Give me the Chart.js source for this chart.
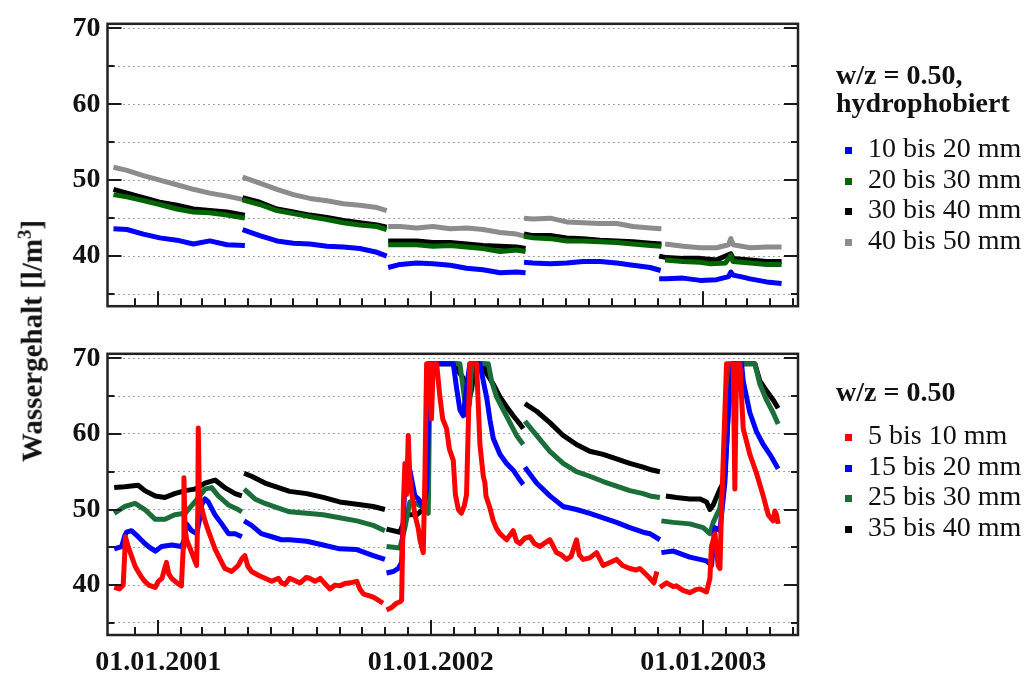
<!DOCTYPE html>
<html lang="de">
<head>
<meta charset="utf-8">
<title>Wassergehalt</title>
<script src="https://cdn.jsdelivr.net/npm/chart.js@4.4.1/dist/chart.umd.min.js"></script>
<style>
  html, body { margin: 0; padding: 0; background: #fff; }
  body { width: 1024px; height: 675px; position: relative; overflow: hidden;
         font-family: 'Liberation Serif', 'Times New Roman', serif; color: #111; }
  canvas { position: absolute; left: 0; }
  #oben { top: 0; }
  #unten { top: 330px; }
  .achsentitel { position: absolute; left: 31px; top: 341px; transform: translate(-50%, -50%) rotate(-90deg);
                 font-weight: bold; font-size: 29px; white-space: nowrap; }
  .achsentitel sup { font-size: 19px; }
  .legende { position: absolute; left: 836px; font-size: 28px; }
  .legende .titel { font-weight: bold; line-height: 28px; white-space: nowrap; }
  .legende ul { list-style: none; margin: 0; padding: 0; }
  .legende li { height: 30.5px; line-height: 30.5px; white-space: nowrap; }
  .legende .box { display: inline-block; width: 7px; height: 7px; margin: 0 16px 0 9px; vertical-align: middle; }
  #legende-oben { top: 61px; }
  #legende-oben ul { margin-top: 16px; }
  #legende-unten { top: 378px; }
  #legende-unten ul { margin-top: 14px; }
</style>
</head>
<body>
<canvas id="oben" width="1024" height="330"></canvas>
<canvas id="unten" width="1024" height="345"></canvas>
<div class="achsentitel">Wassergehalt [l/m<sup>3</sup>]</div>
<div class="legende" id="legende-oben"><div class="titel">w/z = 0.50,<br>hydrophobiert</div><ul></ul></div>
<div class="legende" id="legende-unten"><div class="titel">w/z = 0.50</div><ul></ul></div>
<script>
// Tage seit 01.01.2001, Messwerte in l/m³; jede Reihe besteht aus Messabschnitten
const obenLabels = ['10 bis 20 mm', '20 bis 30 mm', '30 bis 40 mm', '40 bis 50 mm'];
const untenLabels = ['5 bis 10 mm', '15 bis 20 mm', '25 bis 30 mm', '35 bis 40 mm'];

const hyd10bis20 = [
  [[-60,43.6],[-42,43.5],[-20,42.9],[2,42.4],[25,42.1],[47,41.6],[69,42.0],[92,41.5],[116,41.4]],
  [[113,43.5],[136,42.7],[159,42.0],[181,41.7],[203,41.6],[226,41.3],[248,41.2],[270,41.0],[293,40.5],[306,40.0]],
  [[308,38.5],[324,38.9],[346,39.1],[368,39.0],[391,38.8],[413,38.4],[435,38.2],[458,37.8],[480,37.9],[492,37.8]],
  [[490,39.2],[502,39.1],[525,39.0],[547,39.1],[569,39.3],[592,39.3],[614,39.1],[636,38.8],[659,38.5],[673,38.1]],
  [[671,37.0],[681,37.0],[703,37.1],[726,36.8],[748,36.9],[764,37.3],[767,37.9],[770,37.5],[780,37.3],[793,37.0],[815,36.6],[835,36.4]]
];
const hyd20bis30 = [
  [[-60,48.1],[-42,47.8],[-20,47.3],[2,46.8],[25,46.2],[47,45.8],[69,45.7],[92,45.4],[116,45.0]],
  [[113,47.4],[136,46.8],[159,46.0],[181,45.6],[203,45.2],[226,44.8],[248,44.4],[270,44.1],[293,43.9],[306,43.5]],
  [[308,41.5],[324,41.5],[346,41.5],[368,41.3],[391,41.4],[413,41.2],[435,41.0],[458,40.6],[480,40.8],[492,40.6]],
  [[490,42.6],[502,42.4],[525,42.3],[547,42.0],[569,42.0],[592,41.9],[614,41.8],[636,41.6],[659,41.4],[674,41.3]],
  [[679,39.5],[703,39.3],[726,39.2],[740,39.0],[760,39.1],[767,40.1],[770,39.3],[793,39.1],[815,38.9],[835,38.9]]
];
const hyd30bis40 = [
  [[-60,48.8],[-42,48.3],[-20,47.7],[2,47.1],[25,46.7],[47,46.2],[69,46.0],[92,45.8],[116,45.4]],
  [[113,47.7],[136,47.1],[159,46.2],[181,45.8],[203,45.4],[226,45.1],[248,44.7],[270,44.4],[293,44.1],[306,43.8]],
  [[308,42.0],[324,42.0],[346,42.0],[368,41.8],[391,41.8],[413,41.6],[435,41.4],[458,41.3],[480,41.2],[492,41.0]],
  [[490,42.9],[502,42.7],[525,42.7],[547,42.4],[569,42.3],[592,42.1],[614,42.0],[636,41.9],[659,41.7],[674,41.6]],
  [[671,40.0],[681,39.8],[703,39.7],[726,39.7],[748,39.5],[767,40.3],[770,39.7],[793,39.5],[815,39.3],[835,39.3]]
];
const hyd40bis50 = [
  [[-60,51.7],[-42,51.3],[-20,50.6],[2,50.0],[25,49.4],[47,48.8],[69,48.3],[92,47.9],[116,47.4]],
  [[113,50.4],[136,49.6],[159,48.8],[181,48.1],[203,47.6],[226,47.3],[248,46.9],[270,46.7],[293,46.4],[306,46.0]],
  [[308,43.9],[324,43.9],[346,43.7],[368,43.9],[391,43.6],[413,43.7],[435,43.5],[458,43.1],[480,42.9],[492,42.6]],
  [[490,45.0],[502,44.9],[525,45.0],[547,44.5],[569,44.4],[592,44.3],[614,44.3],[636,43.9],[659,43.7],[674,43.6]],
  [[679,41.6],[703,41.3],[726,41.1],[748,41.1],[764,41.5],[767,42.3],[770,41.5],[793,41.1],[815,41.2],[835,41.2]]
];

const wz5bis10 = [
  [[-59,39.7],[-52,39.5],[-47,40.0],[-45,44.0],[-44,46.4],[-40,45.0],[-36,43.9],[-31,42.5],[-27,41.8],[-22,41.0],[-18,40.5],[-13,40.0],[-4,39.7],[0,40.5],[5,40.9],[8,42.0],[11,43.0],[14,41.5],[18,40.9],[25,40.3],[31,39.9],[33.5,45.0],[34.4,54.2],[35.8,47.6],[38,46.0],[42.5,44.9],[49,43.2],[51.4,42.6],[53,50.0],[53.6,60.8],[55,52.0],[58,50.2],[62.6,48.5],[67,47.2],[71.5,46.0],[76,44.8],[80.4,43.9],[85,43.0],[89.3,42.2],[94,42.0],[98.3,41.8],[102.7,42.2],[107.2,42.6],[112,43.5],[116,43.9],[120,42.5],[125,41.8],[134,41.3],[143,40.9],[152,40.5],[161,40.9],[165,40.3],[170,40.1],[176,40.9],[185,40.5],[190,40.3],[198,41.0],[203,40.9],[210,40.5],[217,40.9],[225,40.0],[230,39.5],[237,40.0],[243,39.9],[250,40.2],[257,40.3],[266,40.5],[270,39.5],[275,38.8],[282,38.6],[288,38.4],[295,38.0],[301,37.6]],
  [[305.8,36.7],[312,37.0],[319,37.6],[324,37.8],[326,38.0],[328.2,50.2],[330.4,56.1],[332.7,52.0],[334.9,59.8],[337.1,54.0],[339.4,52.3],[343.8,49.3],[348.3,47.5],[350.5,46.0],[355,44.3],[357.2,54.4],[359.5,69.3],[363.9,69.3],[366,62.0],[368.4,69.3],[372.9,69.3],[377.3,64.9],[381,62.0],[386.2,60.7],[390,58.0],[395.2,56.5],[398,52.0],[402,50.0],[406,49.5],[410,50.5],[413,52.0],[417.4,69.3],[426.4,69.3],[430.9,58.6],[435.4,54.4],[437.6,53.5],[439,51.8],[444.3,50.2],[448.8,48.5],[453,47.5],[457.7,46.8],[466.6,46.0],[475.5,47.2],[480,45.8],[484.5,45.5],[491,46.2],[497.8,46.4],[504,45.5],[511.2,45.1],[518,45.6],[524.6,46.0],[533.5,44.3],[540,44.0],[546.9,43.4],[553,43.8],[560.3,46.0],[564,44.0],[569.2,43.4],[578,43.6],[587.1,44.3],[596,42.6],[605,43.0],[613.9,43.4],[622,42.6],[631.7,42.2],[640,42.0],[645,42.2],[649.6,41.8],[658.6,40.9],[664,40.3],[668,41.8]],
  [[672,39.7],[681,40.3],[690,39.8],[694,39.9],[703,39.3],[712,39.0],[720,39.4],[726,39.5],[734.5,39.1],[739,40.9],[741,45.1],[745.7,46.8],[750,42.6],[752.4,42.2],[754.6,50.2],[759,62.8],[761.3,69.3],[770.2,69.3],[772.4,52.7],[774.7,69.3],[779.1,69.3],[783.6,60.7],[792.5,57.3],[801.4,54.8],[810.4,51.8],[817.1,49.3],[823.7,48.5],[826,49.8],[828.2,49.3],[830.4,48.1]]
];
const wz15bis20 = [
  [[-59,44.8],[-49,45.1],[-45,46.5],[-42.4,47.0],[-36,47.2],[-27,46.4],[-18,45.5],[-13,45.1],[-4,44.5],[4.5,45.1],[18,45.3],[31,45.1],[35,46.0],[38,48.1],[44.7,47.2],[51.4,46.8],[55,48.5],[58,50.6],[62.6,51.4],[67,51.0],[76,49.3],[85,48.1],[94,46.8],[103,46.8],[112,46.4]],
  [[115,48.5],[125,47.9],[138,46.8],[152,46.4],[165,46.0],[176,46.0],[199,45.8],[221,45.3],[243,44.8],[266,44.7],[288,43.9],[303.6,43.4]],
  [[305.8,41.6],[315,41.8],[321.5,42.2],[326,43.0],[330.4,53.5],[337.1,55.2],[343.8,51.8],[348.3,51.4],[352.8,50.6],[357.2,51.5],[359.5,52.7],[363.9,69.3],[395.2,69.3],[399.6,66.1],[404.1,63.2],[408.5,62.4],[413,66.0],[417.4,69.3],[430.9,69.3],[435.4,67.0],[439.8,64.9],[444.3,61.9],[448.8,59.4],[457.7,57.3],[466.6,56.1],[475.5,55.2],[484.5,53.9],[488.9,53.3]],
  [[491.1,55.6],[506.8,53.5],[524.6,51.8],[542.4,50.4],[560.3,50.0],[578.1,49.5],[596,48.9],[613.9,48.3],[631.7,47.6],[649.6,47.0],[658.6,46.8],[672,46.0]],
  [[674,44.3],[690,44.5],[712,43.7],[734.5,43.2],[741.2,42.6],[745.7,47.6],[752.4,47.2],[759,53.5],[763.5,62.8],[770.2,69.3],[781.4,69.3],[783.6,67.0],[792.5,62.8],[801.4,60.3],[810.4,58.6],[819.3,57.3],[830.4,55.4]]
];
const wz25bis30 = [
  [[-59,49.5],[-45,50.4],[-31,50.8],[-18,50.0],[-4,48.7],[9,48.7],[22,49.3],[36,49.5],[49,51.0],[62.6,52.7],[71.5,52.9],[80.4,51.8],[94,50.6],[107,50.0],[112,49.7]],
  [[115,52.7],[129.5,51.4],[143,50.8],[161,50.2],[176,49.7],[199,49.5],[221,49.3],[243,48.9],[266,48.5],[288,47.9],[303.6,47.2]],
  [[305.8,45.1],[315,45.0],[323.7,44.9],[330.4,47.6],[337.1,51.0],[346.1,50.8],[355,50.2],[361.7,49.5],[364,69.3],[404,69.3],[408.5,66.0],[413,62.5],[417,64.0],[420,69.3],[442.1,69.3],[446.5,67.0],[453.2,64.9],[462.1,63.2],[471.1,61.5],[480,59.8],[488.9,58.6]],
  [[491.1,61.7],[506.8,59.8],[524.6,57.7],[542.4,56.1],[560.3,55.0],[578.1,54.4],[596,53.7],[613.9,53.1],[631.7,52.5],[649.6,52.1],[658.6,51.8],[672,51.6]],
  [[674,48.5],[690,48.3],[712,48.1],[730,47.6],[739,46.8],[743.4,48.3],[752.4,50.2],[759,54.4],[763.5,62.8],[768,69.3],[799.2,69.3],[805.9,66.6],[814.8,64.5],[823.7,62.8],[830.4,61.3]]
];
const wz35bis40 = [
  [[-59,52.9],[-45,53.0],[-27,53.2],[-18,52.5],[-4,51.8],[9,51.6],[22,52.1],[36,52.5],[49,52.7],[62.6,53.5],[76,53.9],[89,52.9],[103,52.1],[112,51.8]],
  [[115,54.8],[125,54.4],[143,53.5],[161,52.9],[176,52.4],[199,52.1],[221,51.6],[243,51.0],[266,50.7],[288,50.4],[303.6,50.0]],
  [[305.8,47.4],[323.7,47.0],[332.7,49.3],[346.1,49.3],[355,50.0],[359.5,51.0],[361.7,69.3],[399.6,69.3],[404,68.0],[408.5,67.4],[413,66.0],[417.4,64.9],[420,66.0],[424,69.3],[435.4,69.3],[439.8,68.0],[448.8,66.6],[457.7,64.9],[466.6,63.6],[475.5,62.4],[484.5,61.3],[488.9,60.7]],
  [[491.1,64.0],[506.8,63.0],[524.6,61.5],[542.4,59.8],[560.3,58.6],[578.1,57.7],[596,57.3],[613.9,56.7],[631.7,56.1],[649.6,55.6],[658.6,55.3],[672,55.0]],
  [[680,51.8],[694,51.6],[712,51.4],[726,51.4],[734.5,51.0],[739,50.0],[743.4,50.6],[752.4,52.7],[756.8,53.5],[761.3,58.6],[765.7,67.8],[768,69.3],[799.2,69.3],[805.9,67.0],[814.8,65.7],[823.7,64.5],[830.4,63.4]]
];

const yTicks = [35, 40, 45, 50, 55, 60, 65, 70];
const xTickJahre = [2001, 2002, 2003];
const xTickLabels = ['01.01.2001', '01.01.2002', '01.01.2003'];

const xMin = -68, xMax = 857;
const yMin = 33.4, yMax = 70.6;

const TAG = 86400000;
const basis = Date.UTC(2001, 0, 1);
const tagNr = (j, m, t) => (Date.UTC(j, m, t || 1) - basis) / TAG;
const jahresTicks = xTickJahre.map(j => tagNr(j, 0));

// Monatsanfänge Dez 2000 bis Mai 2003
const monatsTicks = [];
for (let j = 2000; j <= 2003; j++) {
  for (let m = 0; m < 12; m++) {
    const d = tagNr(j, m);
    if (d >= tagNr(2000, 11) && d <= tagNr(2003, 4)) monatsTicks.push(d);
  }
}

function zuPunkten(segmente) {
  const pts = [];
  segmente.forEach((seg, i) => {
    if (i > 0) pts.push({ x: seg[0][0], y: null });
    seg.forEach(p => pts.push({ x: p[0], y: p[1] }));
  });
  return pts;
}

function reihe(label, segmente, farbe) {
  return {
    label: label,
    data: zuPunkten(segmente),
    borderColor: farbe,
    backgroundColor: farbe,
    borderWidth: 5,
    pointRadius: 0,
    tension: 0,
    spanGaps: false,
    borderJoinStyle: 'round'
  };
}

const schrift = { family: "'Liberation Serif', 'Times New Roman', serif", size: 28, weight: 'bold' };

// Rahmen und nach innen zeigende Teilstriche
const rahmen = {
  id: 'rahmen',
  afterDatasetsDraw(chart) {
    const { ctx, chartArea: a, scales: { x, y } } = chart;
    ctx.save();
    ctx.strokeStyle = '#1a1a1a';
    ctx.lineWidth = 2;
    ctx.beginPath();
    y.ticks.forEach(t => {
      const py = Math.round(y.getPixelForValue(t.value));
      const len = t.value % 10 === 0 ? 14 : 7;
      ctx.moveTo(a.left, py); ctx.lineTo(a.left + len, py);
      ctx.moveTo(a.right, py); ctx.lineTo(a.right - len, py);
    });
    x.ticks.forEach(t => {
      const px = Math.round(x.getPixelForValue(t.value));
      const len = jahresTicks.includes(t.value) ? 15 : 8;
      ctx.moveTo(px, a.bottom); ctx.lineTo(px, a.bottom - len);
    });
    ctx.stroke();
    ctx.lineWidth = 2.5;
    ctx.strokeStyle = '#222';
    ctx.strokeRect(a.left, a.top, a.right - a.left, a.bottom - a.top);
    ctx.restore();
  }
};

function optionen(mitLabels, oben, xHoehe) {
  return {
    responsive: false,
    animation: false,
    layout: { padding: { left: 0, right: 226, top: oben, bottom: 0 } },
    plugins: { legend: { display: false }, tooltip: { enabled: false } },
    scales: {
      x: {
        type: 'linear', min: xMin, max: xMax,
        afterBuildTicks: s => { s.ticks = monatsTicks.map(v => ({ value: v })); },
        afterFit: s => { s.height = xHoehe; },
        grid: { display: false },
        border: { display: false },
        ticks: {
          display: mitLabels, autoSkip: false, maxRotation: 0, padding: 3, color: '#111', font: schrift,
          callback: v => { const i = jahresTicks.indexOf(v); return i >= 0 ? xTickLabels[i] : ''; }
        }
      },
      y: {
        type: 'linear', min: yMin, max: yMax,
        afterBuildTicks: s => { s.ticks = yTicks.map(v => ({ value: v })); },
        afterFit: s => { s.width = 107.5; },
        grid: { color: '#a0a0a0', lineWidth: 1, drawTicks: false },
        border: { display: false, dash: [2, 3] },
        ticks: { padding: 7, color: '#111', font: schrift, callback: v => (v % 10 === 0 ? v : '') }
      }
    }
  };
}

function legendeBauen(chart, id) {
  const ul = document.querySelector('#' + id + ' ul');
  chart.data.datasets.forEach(ds => {
    const li = document.createElement('li');
    const box = document.createElement('span');
    box.className = 'box';
    box.style.background = ds.borderColor;
    li.appendChild(box);
    li.appendChild(document.createTextNode(ds.label));
    ul.appendChild(li);
  });
}

const chartOben = new Chart(document.getElementById('oben'), {
  type: 'line',
  data: {
    datasets: [
      reihe(obenLabels[0], hyd10bis20, '#0000ff'),
      reihe(obenLabels[1], hyd20bis30, '#006400'),
      reihe(obenLabels[2], hyd30bis40, '#000000'),
      reihe(obenLabels[3], hyd40bis50, '#8c8c8c')
    ]
  },
  options: optionen(false, 15, 20),
  plugins: [rahmen]
});

const chartUnten = new Chart(document.getElementById('unten'), {
  type: 'line',
  data: {
    datasets: [
      reihe(untenLabels[0], wz5bis10, '#ff0000'),
      reihe(untenLabels[1], wz15bis20, '#0000ff'),
      reihe(untenLabels[2], wz25bis30, '#1b6e3a'),
      reihe(untenLabels[3], wz35bis40, '#000000')
    ]
  },
  options: optionen(true, 9.3, 40),
  plugins: [rahmen]
});

legendeBauen(chartOben, 'legende-oben');
legendeBauen(chartUnten, 'legende-unten');
</script>
</body>
</html>
